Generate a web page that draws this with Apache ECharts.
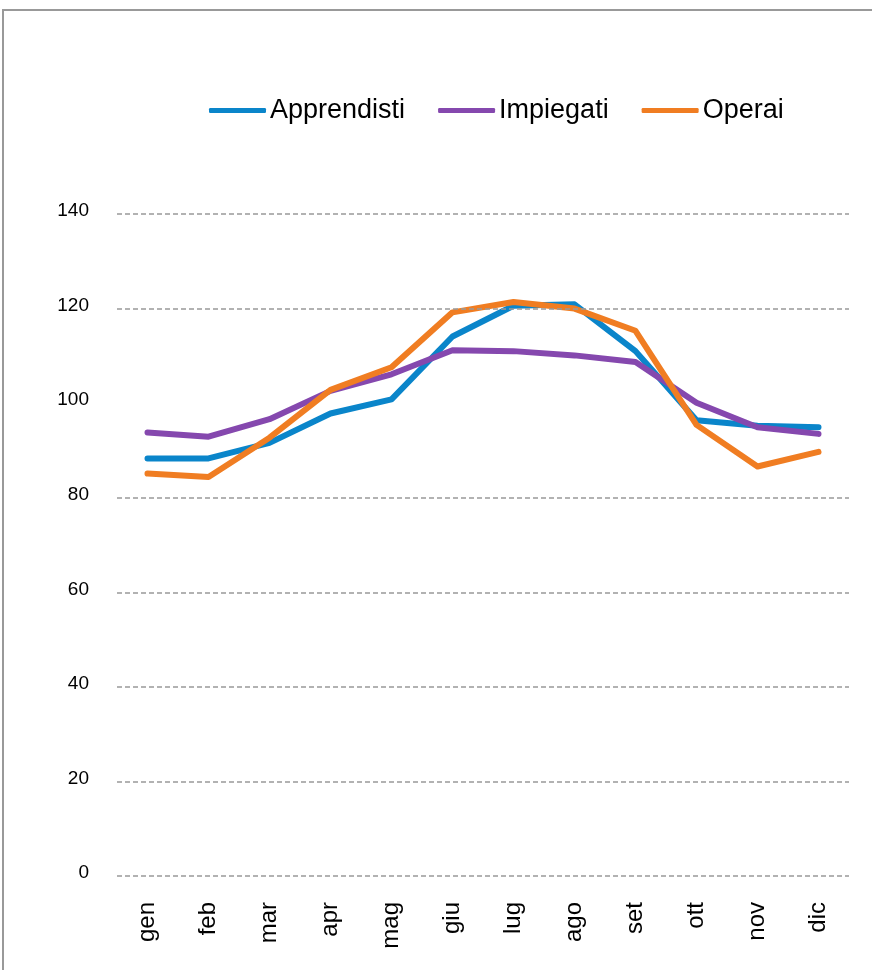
<!DOCTYPE html>
<html>
<head>
<meta charset="utf-8">
<script src="https://cdn.jsdelivr.net/npm/echarts@6/dist/echarts.min.js"></script>
<style>
    html, body { margin: 0; padding: 0; background: #fff; }
    #frame { position: absolute; left: 2px; top: 9px; width: 1000px; height: 1100px; border: 2px solid #999; box-sizing: border-box; }
    #chart { position: absolute; left: 0; top: 0; width: 872px; height: 970px; }
</style>
</head>
<body>
<div id="frame"></div>
<div id="chart"></div>
<script>
const months = ['gen', 'feb', 'mar', 'apr', 'mag', 'giu', 'lug', 'ago', 'set', 'ott', 'nov', 'dic'];
const apprendisti = [88.3, 88.3, 91.6, 97.8, 100.8, 114.1, 120.6, 120.9, 111.0, 96.4, 95.2, 94.9];
const impiegati = [93.8, 92.9, 96.6, 102.6, 106.1, 111.2, 111.0, 110.1, 108.7, 100.1, 94.9, 93.5];
const operai = [85.1, 84.4, 92.7, 102.8, 107.6, 119.2, 121.4, 120.0, 115.3, 95.4, 86.6, 89.7];
// linee di griglia visibili (quella a 100 manca nell'originale)
const gridValues = [0, 20, 40, 60, 80, 120, 140];

const FONT = 'Liberation Sans, Arial, sans-serif';
const chart = echarts.init(document.getElementById('chart'));
const lineSeries = (name, data, color) => ({
    name,
    type: 'line',
    data,
    symbol: 'none',
    smooth: false,
    lineStyle: { width: 6, color, join: 'round', cap: 'round' },
    itemStyle: { color },
});

chart.setOption({
    animation: false,
    textStyle: { fontFamily: FONT },
    legend: {
        left: 204,
        top: 92,
        itemWidth: 57,
        itemHeight: 5,
        itemGap: 33,
        icon: 'roundRect',
        textStyle: { fontSize: 27, color: '#000', fontFamily: FONT, padding: [0, 0, 0, -1] },
        data: ['Apprendisti', 'Impiegati', 'Operai'],
    },
    grid: { left: 117, right: 23, top: 214, bottom: 94, containLabel: false },
    xAxis: {
        type: 'category',
        data: months,
        boundaryGap: true,
        axisLine: { show: false },
        axisTick: { show: false },
        axisLabel: { rotate: 90, margin: 26, fontSize: 24, color: '#000', fontFamily: FONT },
    },
    yAxis: {
        type: 'value',
        min: 0,
        max: 140,
        interval: 20,
        axisLine: { show: false },
        axisTick: { show: false },
        splitLine: { show: false },
        axisLabel: {
            margin: 28,
            formatter: '{v|{value}}',
            rich: { v: { fontSize: 19, color: '#000', fontFamily: FONT, padding: [0, 0, 6, 0] } },
        },
    },
    series: [
        {
            name: 'griglia',
            type: 'line',
            data: [],
            silent: true,
            markLine: {
                silent: true,
                symbol: 'none',
                label: { show: false },
                lineStyle: { color: '#999', width: 1.5, type: [5, 3] },
                data: gridValues.map(v => ({ yAxis: v })),
            },
        },
        lineSeries('Apprendisti', apprendisti, '#0A85CA'),
        lineSeries('Impiegati', impiegati, '#8548AE'),
        lineSeries('Operai', operai, '#F07D22'),
    ],
});
</script>
</body>
</html>
